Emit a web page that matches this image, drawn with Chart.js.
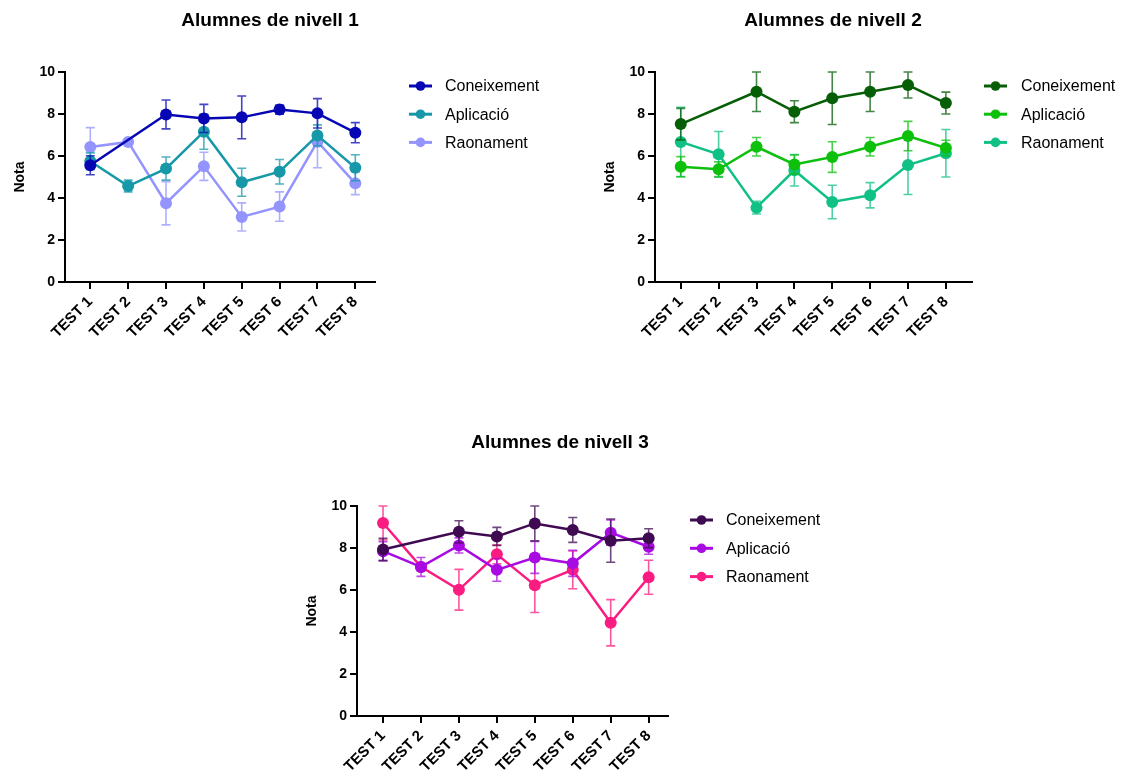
<!DOCTYPE html>
<html><head><meta charset="utf-8">
<script src="https://cdn.jsdelivr.net/npm/chart.js@4.4.1/dist/chart.umd.min.js"></script>
<style>
html,body{margin:0;padding:0;background:#fff;width:1123px;height:776px;overflow:hidden;}
canvas{position:absolute;left:0;top:0;}
</style></head><body>
<canvas id="c1" width="1123" height="776"></canvas>
<canvas id="c2" width="1123" height="776"></canvas>
<canvas id="c3" width="1123" height="776"></canvas>
<script>
const categories = ['TEST 1','TEST 2','TEST 3','TEST 4','TEST 5','TEST 6','TEST 7','TEST 8'];
const seriesNames = ['Coneixement','Aplicació','Raonament'];
const yTicks = [0, 2, 4, 6, 8, 10];

// Nivell 1
const n1Coneixement    = [5.56, null, 7.98, 7.79, 7.84, 8.21, 8.03, 7.11];
const n1ConeixementErr = [0.45, null, 0.69, 0.67, 1.02, 0.22, 0.70, 0.48];
const n1Aplicacio      = [5.75, 4.57, 5.40, 7.16, 4.75, 5.25, 6.98, 5.44];
const n1AplicacioErr   = [0.40, 0.28, 0.55, 0.84, 0.67, 0.58, 0.50, 0.62];
const n1Raonament      = [6.43, 6.67, 3.75, 5.51, 3.10, 3.59, 6.68, 4.70];
const n1RaonamentErr   = [0.92, 0.05, 1.03, 0.67, 0.67, 0.70, 1.24, 0.54];

// Nivell 2
const n2Coneixement    = [7.52, null, 9.06, 8.11, 8.75, 9.06, 9.38, 8.52];
const n2ConeixementErr = [0.75, null, 0.94, 0.52, 1.25, 0.94, 0.62, 0.52];
const n2Aplicacio      = [5.49, 5.37, 6.44, 5.60, 5.95, 6.44, 6.95, 6.38];
const n2AplicacioErr   = [0.48, 0.35, 0.44, 0.45, 0.73, 0.44, 0.70, 0.37];
const n2Raonament      = [6.67, 6.08, 3.54, 5.32, 3.81, 4.13, 5.57, 6.13];
const n2RaonamentErr   = [1.65, 1.09, 0.30, 0.75, 0.80, 0.60, 1.40, 1.13];

// Nivell 3
const n3Coneixement    = [7.93, null, 8.77, 8.55, 9.17, 8.86, 8.35, 8.47];
const n3ConeixementErr = [0.53, null, 0.53, 0.43, 0.83, 0.59, 1.03, 0.45];
const n3Aplicacio      = [7.85, 7.10, 8.12, 6.96, 7.55, 7.27, 8.73, 8.06];
const n3AplicacioErr   = [0.45, 0.45, 0.36, 0.54, 0.76, 0.62, 0.60, 0.36];
const n3Raonament      = [9.19, 7.10, 6.01, 7.70, 6.23, 6.96, 4.44, 6.61];
const n3RaonamentErr   = [0.81, 0.05, 0.97, 0.45, 1.30, 0.90, 1.10, 0.81];

const FONT = "'Liberation Sans', Arial, Helvetica, sans-serif";

const errorBarPlugin = {
  id: 'errorBars',
  beforeDatasetDraw(chart, args) {
    const ds = chart.data.datasets[args.index];
    const errs = ds.errors;
    if (!errs) return;
    const xs = chart.scales.x, ys = chart.scales.y;
    const ctx = chart.ctx;
    ctx.save();
    ctx.strokeStyle = ds.errorColor;
    ctx.lineWidth = 1.6;
    ds.data.forEach((p, j) => {
      if (p.y == null || errs[j] == null) return;
      const x = xs.getPixelForValue(p.x);
      const yt = ys.getPixelForValue(p.y + errs[j]);
      const yb = ys.getPixelForValue(p.y - errs[j]);
      ctx.beginPath();
      ctx.moveTo(x, yt); ctx.lineTo(x, yb);
      ctx.moveTo(x - 4.5, yt); ctx.lineTo(x + 4.5, yt);
      ctx.moveTo(x - 4.5, yb); ctx.lineTo(x + 4.5, yb);
      ctx.stroke();
    });
    ctx.restore();
  }
};

const decorPlugin = {
  id: 'decor',
  afterDraw(chart, args, opts) {
    const ctx = chart.ctx;
    ctx.save();
    ctx.fillStyle = '#000';
    ctx.font = 'bold 19px ' + FONT;
    ctx.textAlign = 'center';
    ctx.textBaseline = 'middle';
    ctx.fillText(opts.title, opts.titleX, opts.titleY);
    ctx.font = '16px ' + FONT;
    ctx.textAlign = 'left';
    chart.data.datasets.forEach((ds, i) => {
      const y = opts.legendY + i * opts.legendGap;
      const x0 = opts.legendX;
      ctx.strokeStyle = ds.borderColor;
      ctx.lineWidth = 3;
      ctx.beginPath(); ctx.moveTo(x0, y); ctx.lineTo(x0 + 23, y); ctx.stroke();
      ctx.fillStyle = ds.backgroundColor;
      ctx.beginPath(); ctx.arc(x0 + 11.5, y, 4.8, 0, Math.PI * 2); ctx.fill();
      ctx.fillStyle = '#000';
      ctx.fillText(ds.label, x0 + opts.textOffset, y + 1);
    });
    ctx.restore();
  }
};

function makeDataset(label, values, errs, color, errColor) {
  return {
    label: label,
    data: values.map((v, i) => ({ x: i + 1, y: v })),
    errors: errs,
    errorColor: errColor,
    borderColor: color,
    backgroundColor: color,
    pointBackgroundColor: color,
    pointBorderColor: color,
    pointRadius: 6,
    pointHoverRadius: 6,
    pointBorderWidth: 0,
    borderWidth: 2.5,
    tension: 0,
    spanGaps: true
  };
}

function makeChart(id, datasets, area, xmin, xmax, decor) {
  const yAxisWidth = 65, xAxisHeight = 70;
  return new Chart(document.getElementById(id), {
    type: 'line',
    data: { datasets: datasets },
    options: {
      responsive: false,
      animation: false,
      events: [],
      layout: { padding: { left: area.left - yAxisWidth, top: area.top, right: 1123 - area.right, bottom: 776 - area.bottom - xAxisHeight } },
      plugins: { legend: { display: false }, tooltip: { enabled: false }, title: { display: false }, decor: decor },
      scales: {
        x: {
          type: 'linear', min: xmin, max: xmax,
          afterBuildTicks: s => { s.ticks = categories.map((c, i) => ({ value: i + 1 })); },
          ticks: { callback: v => categories[v - 1], autoSkip: false, minRotation: 45, maxRotation: 45, padding: 4,
                   color: '#000', font: { family: FONT, size: 15, weight: 'bold' } },
          grid: { drawOnChartArea: false, drawTicks: true, tickLength: 7, color: '#000', lineWidth: 2 },
          border: { display: true, color: '#000', width: 2 },
          afterFit: s => { s.height = xAxisHeight; s.paddingLeft = 0; s.paddingRight = 0; }
        },
        y: {
          type: 'linear', min: 0, max: 10,
          afterBuildTicks: s => { s.ticks = yTicks.map(v => ({ value: v })); },
          ticks: { padding: 3, color: '#000', font: { family: FONT, size: 14, weight: 'bold' } },
          grid: { drawOnChartArea: false, drawTicks: true, tickLength: 7, color: '#000', lineWidth: 2 },
          border: { display: true, color: '#000', width: 2 },
          title: { display: true, text: 'Nota', color: '#000', font: { family: FONT, size: 14, weight: 'bold' }, padding: { top: 12, bottom: 0 } },
          afterFit: s => { s.width = yAxisWidth; s.paddingTop = 0; s.paddingBottom = 0; }
        }
      }
    },
    plugins: [errorBarPlugin, decorPlugin]
  });
}

makeChart('c1', [
  makeDataset(seriesNames[0], n1Coneixement, n1ConeixementErr, '#0606b4', 'rgba(6,6,180,0.75)'),
  makeDataset(seriesNames[1], n1Aplicacio, n1AplicacioErr, '#1698a8', 'rgba(22,152,168,0.75)'),
  makeDataset(seriesNames[2], n1Raonament, n1RaonamentErr, '#9494ff', 'rgba(148,148,255,0.75)')
], { left: 65, top: 72, right: 375, bottom: 282 }, 0.332, 8.52,
  { title: 'Alumnes de nivell 1', titleX: 270, titleY: 21, legendX: 409, legendY: 86, legendGap: 28.2, textOffset: 36 });

makeChart('c2', [
  makeDataset(seriesNames[0], n2Coneixement, n2ConeixementErr, '#065e06', 'rgba(6,94,6,0.75)'),
  makeDataset(seriesNames[1], n2Aplicacio, n2AplicacioErr, '#0cc00c', 'rgba(12,192,12,0.75)'),
  makeDataset(seriesNames[2], n2Raonament, n2RaonamentErr, '#10c084', 'rgba(16,192,132,0.75)')
], { left: 655, top: 72, right: 972, bottom: 282 }, 0.32, 8.69,
  { title: 'Alumnes de nivell 2', titleX: 833, titleY: 21, legendX: 984, legendY: 86, legendGap: 28.2, textOffset: 37 });

makeChart('c3', [
  makeDataset(seriesNames[0], n3Coneixement, n3ConeixementErr, '#400a52', 'rgba(64,10,82,0.75)'),
  makeDataset(seriesNames[1], n3Aplicacio, n3AplicacioErr, '#a80ae2', 'rgba(168,10,226,0.75)'),
  makeDataset(seriesNames[2], n3Raonament, n3RaonamentErr, '#fa1c80', 'rgba(250,28,128,0.75)')
], { left: 357, top: 506, right: 668, bottom: 716 }, 0.314, 8.51,
  { title: 'Alumnes de nivell 3', titleX: 560, titleY: 443, legendX: 690, legendY: 520, legendGap: 28.3, textOffset: 36 });
</script>
</body></html>
